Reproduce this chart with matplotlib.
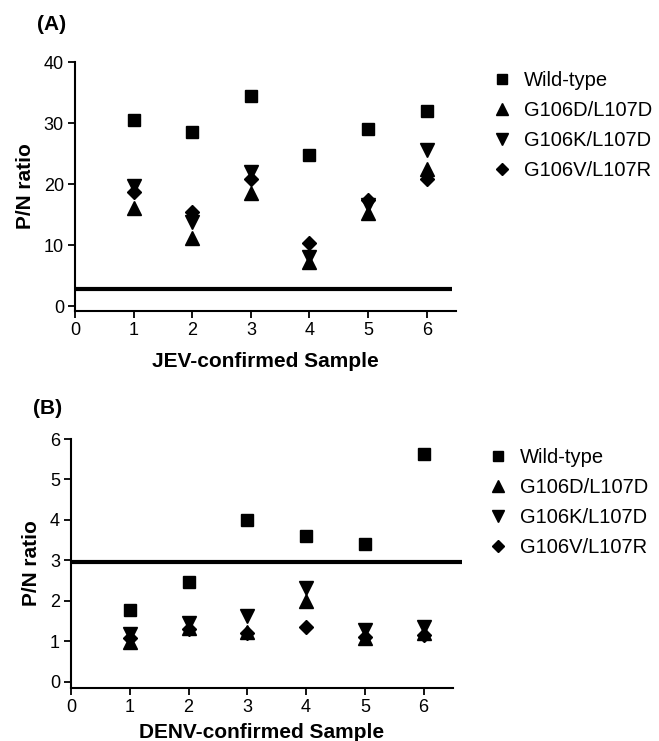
import matplotlib
matplotlib.use("Agg")
import matplotlib.pyplot as plt

plt.rcParams['font.family'] = ['Liberation Sans', 'DejaVu Sans']

samples = [1, 2, 3, 4, 5, 6]
series_names = ["Wild-type", "G106D/L107D", "G106K/L107D", "G106V/L107R"]

jev_wt = [30.5, 28.6, 34.4, 24.8, 29.0, 31.9]
jev_g106d = [16.0, 11.1, 18.6, 7.3, 15.2, 22.4]
jev_g106k = [19.7, 13.8, 22.0, 8.1, 16.6, 25.6]
jev_g106v = [18.7, 15.5, 20.9, 10.4, 17.4, 20.8]
jev_cutoff = 2.8

denv_wt = [1.76, 2.47, 3.99, 3.61, 3.41, 5.62]
denv_g106d = [0.99, 1.32, 1.22, 2.00, 1.08, 1.20]
denv_g106k = [1.18, 1.45, 1.61, 2.31, 1.28, 1.36]
denv_g106v = [1.08, 1.30, 1.20, 1.36, 1.10, 1.15]
denv_cutoff = 2.95

markers = ['s', '^', 'v', 'D']
msizes = [8.5, 10, 10, 7]

fig = plt.figure(figsize=(6.59, 7.41), dpi=100)

def panel(rect, data, cutoff, ylim, yticks, xlabel, line_end, leg_anchor, xlabelpad):
    ax = fig.add_axes(rect)
    handles = []
    for vals, m, ms, name in zip(data, markers, msizes, series_names):
        h, = ax.plot(samples, vals, linestyle='none', marker=m, markersize=ms,
                     color='black', label=name, clip_on=False)
        handles.append(h)
    ax.plot([0, line_end], [cutoff, cutoff], color='black', lw=3, clip_on=False,
            solid_capstyle='butt')
    ax.set_xlim(0, 6.5)
    ax.set_ylim(*ylim)
    ax.set_yticks(yticks)
    ax.set_xticks([0, 1, 2, 3, 4, 5, 6])
    for s in ['top', 'right']:
        ax.spines[s].set_visible(False)
    for s in ['left', 'bottom']:
        ax.spines[s].set_linewidth(1.5)
    ax.spines['left'].set_bounds(ylim[0], yticks[-1])
    ax.tick_params(direction='out', length=5, width=1.3, labelsize=13, pad=3)
    ax.set_ylabel("P/N ratio", fontsize=15, fontweight='bold', labelpad=6)
    ax.set_xlabel(xlabel, fontsize=15, fontweight='bold', labelpad=xlabelpad)
    ax.legend(handles=handles, loc='upper left', bbox_to_anchor=leg_anchor,
              bbox_transform=fig.transFigure, frameon=False, fontsize=14.5,
              labelspacing=0.55, handletextpad=0.5, markerscale=0.9,
              handlelength=1.2, borderpad=0, borderaxespad=0)
    return ax

panel([75/659, 1-311/741, (456-75)/659, (311-62)/741],
      [jev_wt, jev_g106d, jev_g106k, jev_g106v], jev_cutoff,
      (-0.8, 40), [0, 10, 20, 30, 40], "JEV-confirmed Sample", 6.43,
      (490/659, 1-71/741), 9)
panel([71/659, 1-688/741, (453-71)/659, (688-439)/741],
      [denv_wt, denv_g106d, denv_g106k, denv_g106v], denv_cutoff,
      (-0.16, 6), [0, 1, 2, 3, 4, 5, 6], "DENV-confirmed Sample", 6.65,
      (486/659, 1-448/741), 5)

fig.text(37/659, 1-25/741, "(A)", fontsize=15, fontweight='bold', va='center', ha='left')
fig.text(33/659, 1-408/741, "(B)", fontsize=15, fontweight='bold', va='center', ha='left')

fig.savefig("out.png", dpi=100)
